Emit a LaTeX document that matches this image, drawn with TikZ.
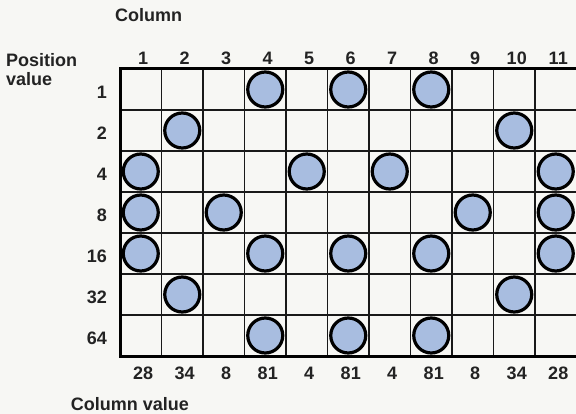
\documentclass[tikz,border=0pt]{standalone}
\usepackage{fontspec}
\setmainfont{Liberation Sans}
\definecolor{bg}{RGB}{247,247,244}
\definecolor{dotblue}{RGB}{168,189,224}
\definecolor{ink}{RGB}{35,35,35}
\begin{document}
\begin{tikzpicture}[x=1pt,y=-1pt,
  lbl/.style={font=\bfseries\fontsize{18}{21}\selectfont, text=ink, inner sep=0},
  dot/.style={circle, draw=black, line width=3.2pt, fill=dotblue, minimum size=35pt, inner sep=0},
  gridline/.style={line width=1.5pt, draw=black!90}]
\useasboundingbox[fill=bg] (0,0) rectangle (576,414);
% grid
\foreach \i in {1,...,10} \draw[gridline] ({120+41.5*\i},69) -- ({120+41.5*\i},356);
\foreach \j in {1,...,6} \draw[gridline] (120,{69+41*\j}) -- (580,{69+41*\j});
\draw[line width=3pt, line cap=rect] (580,69) -- (120,69) -- (120,356) -- (580,356);
% titles
\node[lbl] (coltitle) at (148.5,15) {Column};
\node[lbl, anchor=west] (pos) at (6,60) {Position};
\node[lbl, anchor=west] (val) at (6,79) {value};
\node[lbl, anchor=base] (colvaltitle) at (130,410) {Column value};
% column numbers and values
\foreach \c/\v in {1/28,2/34,3/8,4/81,5/4,6/81,7/4,8/81,9/8,10/34,11/28} {
  \node[lbl] (ch\c) at ({120+41.5*(\c-0.5)+2.5},58) {\c};
  \node[lbl] (cv\c) at ({120+41.5*(\c-0.5)+2.5},373) {\v};
}
% row labels
\foreach \r/\p in {1/1,2/2,3/4,4/8,5/16,6/32,7/64}
  \node[lbl, anchor=east] (rl\r) at (107,{69+41*(\r-0.5)+3}) {\p};
% dots: row/column
\foreach \r/\c in {1/4,1/6,1/8, 2/2,2/10, 3/1,3/5,3/7,3/11, 4/1,4/3,4/9,4/11,
                   5/1,5/4,5/6,5/8,5/11, 6/2,6/10, 7/4,7/6,7/8}
  \node[dot] (d\r-\c) at ({120+41.5*(\c-0.5)},{69+41*(\r-0.5)}) {};
\end{tikzpicture}
\end{document}
